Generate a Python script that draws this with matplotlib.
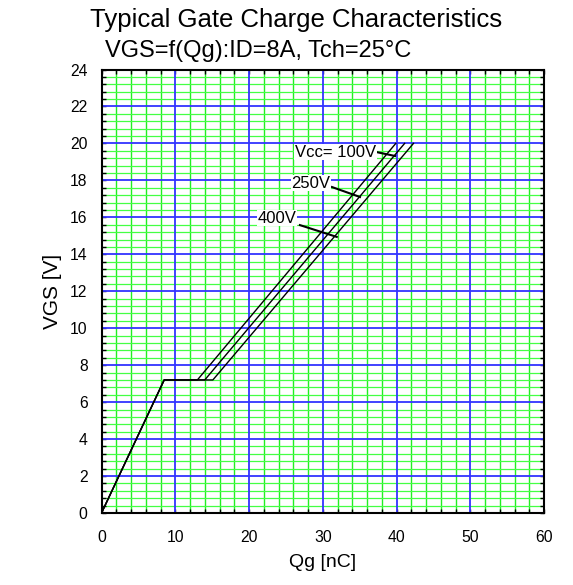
import matplotlib

matplotlib.use("Agg")
import matplotlib.pyplot as plt
import numpy as np

plt.rcParams["font.family"] = ["Liberation Sans", "DejaVu Sans"]

# Gate charge curves (Qg [nC], VGS [V]) for each Vcc
vcc_labels = ["Vcc= 100V", "250V", "400V"]
qg_100 = [0, 8.5, 13.0, 39.9]
qg_250 = [0, 8.5, 14.0, 41.1]
qg_400 = [0, 8.5, 15.1, 42.3]
vgs_pts = [0, 7.2, 7.2, 20.0]

# label anchor (text centre) and leader line end points
label_xy = [(31.7, 19.53), (28.4, 17.85), (23.8, 15.96)]
leader_from = [(37.3, 19.53), (31.25, 17.64), (26.9, 15.58)]
leader_to = [(39.8, 19.32), (35.05, 17.1), (31.9, 14.94)]

x_ticks = [0, 10, 20, 30, 40, 50, 60]
y_ticks = [0, 2, 4, 6, 8, 10, 12, 14, 16, 18, 20, 22, 24]

fig = plt.figure(figsize=(5.73, 5.85), dpi=100)
ax = fig.add_axes([101.5 / 573, 72 / 585, 442.5 / 573, 443.5 / 585])

# grid
for x in np.arange(0, 60.01, 2):
    if x % 10 == 0:
        continue
    ax.axvline(x, color="#22ee22", lw=1.0, zorder=1)
for y in np.arange(0, 24.01, 0.4):
    if abs(y / 2 - round(y / 2)) < 1e-6:
        continue
    ax.axhline(y, color="#44ff44", lw=0.9, zorder=1)
for x in x_ticks[1:-1]:
    ax.axvline(x, color="#3333ff", lw=1.3, zorder=2)
for y in y_ticks[1:-1]:
    ax.axhline(y, color="#3333ff", lw=1.3, zorder=2)

for qg in (qg_100, qg_250, qg_400):
    ax.plot(qg, vgs_pts, color="black", lw=1.0, zorder=3)

for lab, (tx, ty), (x0, y0), (x1, y1) in zip(vcc_labels, label_xy, leader_from, leader_to):
    ax.plot([x0, x1], [y0, y1], color="black", lw=1.5, zorder=4)
    ax.text(tx, ty, lab, ha="center", va="center", fontsize=12, zorder=5,
            bbox=dict(facecolor="white", edgecolor="none", pad=0.5))

ax.set_xlim(0, 60)
ax.set_ylim(0, 24)
ax.set_xticks(x_ticks)
ax.set_yticks(y_ticks)
ax.set_xticks(np.arange(0, 60.01, 2), minor=True)
ax.set_yticks(np.arange(0, 24.01, 0.4), minor=True)
ax.tick_params(which="both", direction="in", top=True, right=True, length=3, width=1)
ax.tick_params(which="major", labelsize=11.3, pad=12)
ax.tick_params(axis="y", which="major", pad=10)
for s in ax.spines.values():
    s.set_linewidth(1.5)
    s.set_zorder(6)

ax.set_xlabel("Qg [nC]", fontsize=14, labelpad=7)
ax.set_ylabel("VGS [V]", fontsize=15, labelpad=6)

fig.text(90 / 573, 1 - 26.5 / 585, "Typical Gate Charge Characteristics", fontsize=18.5, va="baseline")
fig.text(105 / 573, 1 - 57 / 585, "VGS=f(Qg):ID=8A, Tch=25°C", fontsize=17, va="baseline")

fig.savefig("out.png", dpi=100)
